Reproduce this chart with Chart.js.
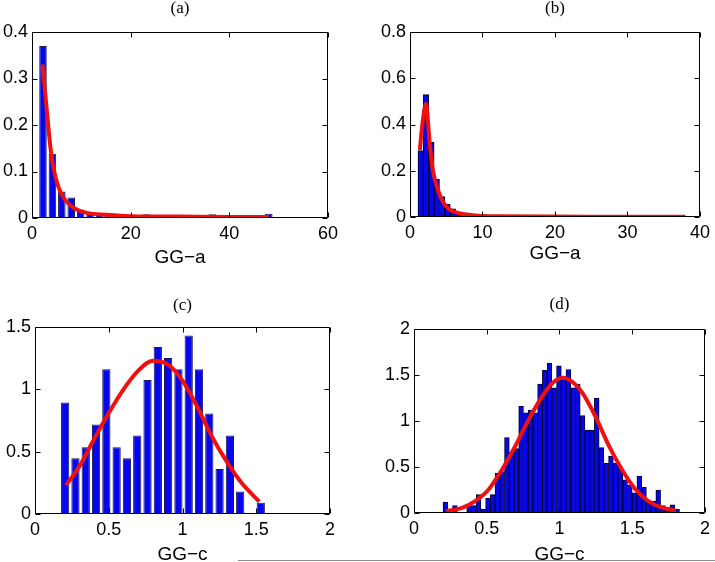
<!DOCTYPE html>
<html>
<head>
<meta charset="utf-8">
<title>GG histograms</title>
<script src="https://cdn.jsdelivr.net/npm/chart.js@4.4.1/dist/chart.umd.min.js"></script>
<style>
    html, body { margin: 0; padding: 0; background: #fff; }
    body { width: 715px; height: 562px; position: relative; overflow: hidden; }
    .panel { position: absolute; }
    .rule { position: absolute; left: 238px; top: 560px; width: 477px; height: 1px; background: #8a8a8a; }
</style>
</head>
<body>
<div class="panel" id="wrap-a"><canvas id="chart-a"></canvas></div>
<div class="panel" id="wrap-b"><canvas id="chart-b"></canvas></div>
<div class="panel" id="wrap-c"><canvas id="chart-c"></canvas></div>
<div class="panel" id="wrap-d"><canvas id="chart-d"></canvas></div>
<div class="rule"></div>
<script>
// (a) GG-a, 25 bins
var aFirstBin = 2.23, aBinWidth = 1.907;
var aHeights = [0.37, 0.138, 0.057, 0.044, 0.018, 0.012, 0.007, 0.005, 0.008, 0.004,
    0.003, 0.008, 0.003, 0.002, 0.002, 0.001, 0.001, 0.002, 0.008, 0.002,
    0.001, 0.001, 0.003, 0.003, 0.009];
var aCurveX = [2.1, 3.0, 3.65, 4.3, 5.35, 6.7, 8.4, 11.1, 15.2, 20, 30, 40, 48];
var aCurveY = [0.33, 0.232, 0.16, 0.11, 0.067, 0.039, 0.022, 0.011, 0.007, 0.004, 0.003, 0.002, 0.002];
var aXTicks = [0, 20, 40, 60];
var aYTicks = [0, 0.1, 0.2, 0.3, 0.4];

// (b) GG-a, 50 bins
var bFirstBin = 1.47, bBinWidth = 0.742;
var bHeights = [0.287, 0.529, 0.323, 0.164, 0.088, 0.055, 0.035, 0.02, 0.012, 0.008,
    0.005, 0.004, 0.003, 0.002, 0.002, 0.001, 0.001, 0.001, 0.001, 0,
    0.001, 0, 0.001, 0, 0, 0.001, 0, 0, 0, 0.001,
    0, 0, 0, 0, 0, 0, 0, 0, 0, 0,
    0, 0, 0, 0, 0, 0, 0, 0, 0, 0.002];
var bCurveX = [1.36, 1.72, 2.2, 2.72, 3.17, 3.85, 4.53, 5.44, 6.8, 8.6, 12, 20, 30, 38];
var bCurveY = [0.29, 0.405, 0.49, 0.32, 0.2, 0.117, 0.066, 0.033, 0.016, 0.008, 0.003, 0.002, 0.001, 0.001];
var bXTicks = [0, 10, 20, 30, 40];
var bYTicks = [0, 0.2, 0.4, 0.6, 0.8];

// (c) GG-c, 20 bins
var cFirstBin = 0.2045, cBinWidth = 0.0698;
var cHeights = [0.895, 0.448, 0.536, 0.717, 1.162, 0.536, 0.448, 0.629, 1.074, 1.34,
    1.252, 1.162, 1.431, 1.162, 0.807, 0.36, 0.629, 0.181, 0, 0.09];
var cCurveX = [0.21, 0.3, 0.4, 0.5, 0.6, 0.7, 0.8, 0.9, 1.0, 1.1, 1.2, 1.3, 1.4, 1.52];
var cCurveY = [0.23, 0.38, 0.6, 0.81, 1.0, 1.15, 1.23, 1.2, 1.07, 0.86, 0.62, 0.42, 0.25, 0.1];
var cXTicks = [0, 0.5, 1, 1.5, 2];
var cYTicks = [0, 0.5, 1, 1.5];

// (d) GG-c, 50 bins
var dFirstBin = 0.216, dBinWidth = 0.0325;
var dHeights = [0.12, 0, 0.08, 0, 0, 0.08, 0.08, 0.2, 0.04, 0.16,
    0.2, 0.43, 0.45, 0.82, 0.66, 0.7, 1.16, 1.09, 1.12, 1.09,
    1.4, 1.55, 1.63, 1.36, 1.6, 1.45, 1.56, 1.36, 1.4, 1.06,
    0.9, 0.9, 1.25, 0.71, 0.54, 0.62, 0.54, 0.5, 0.36, 0.3,
    0.22, 0.4, 0.28, 0.13, 0.13, 0.25, 0.08, 0.06, 0.09, 0.04];
var dCurveX = [0.22, 0.33, 0.42, 0.51, 0.6, 0.69, 0.78, 0.87, 0.95, 1.02, 1.1, 1.16, 1.25, 1.34, 1.43, 1.52, 1.61, 1.7, 1.8];
var dCurveY = [0.02, 0.055, 0.13, 0.25, 0.46, 0.71, 0.99, 1.24, 1.41, 1.47, 1.41, 1.3, 1.04, 0.73, 0.47, 0.26, 0.13, 0.06, 0.025];
var dXTicks = [0, 0.5, 1, 1.5, 2];
var dYTicks = [0, 0.5, 1, 1.5, 2];

(function () {
    'use strict';

    Chart.defaults.font.family = '"Liberation Sans", Arial, sans-serif';
    Chart.defaults.color = '#000';

    // MATLAB-like box with inward ticks on all four sides, plus the panel letter
    var matlabAxes = {
        id: 'matlabAxes',
        afterDraw: function (chart, args, opts) {
            var ctx = chart.ctx;
            var a = chart.chartArea;
            var xs = chart.scales.x;
            var ys = chart.scales.y;
            var len = 5;
            var l = Math.round(a.left) + 0.5, r = Math.round(a.right) - 0.5;
            var t = Math.round(a.top) + 0.5, b = Math.round(a.bottom) - 0.5;
            ctx.save();
            ctx.strokeStyle = '#000';
            ctx.lineWidth = 1;
            ctx.beginPath();
            ctx.rect(l, t, r - l, b - t);
            xs.ticks.forEach(function (tk) {
                var px = Math.round(xs.getPixelForValue(tk.value)) + 0.5;
                ctx.moveTo(px, b); ctx.lineTo(px, b - len);
                ctx.moveTo(px, t); ctx.lineTo(px, t + len);
            });
            ys.ticks.forEach(function (tk) {
                var py = Math.round(ys.getPixelForValue(tk.value)) + 0.5;
                ctx.moveTo(l, py); ctx.lineTo(l + len, py);
                ctx.moveTo(r, py); ctx.lineTo(r - len, py);
            });
            ctx.stroke();
            ctx.fillStyle = '#000';
            ctx.font = '17px "Liberation Serif", "Times New Roman", serif';
            ctx.textAlign = 'center';
            ctx.textBaseline = 'middle';
            ctx.fillText(opts.title, (a.left + a.right) / 2, a.top - opts.gap);
            ctx.restore();
        }
    };

    function toPoints(xs, ys) {
        var out = [];
        for (var i = 0; i < xs.length; i++) {
            out.push({ x: xs[i], y: ys[i] });
        }
        return out;
    }

    function binPoints(first, width, heights) {
        var out = [];
        for (var i = 0; i < heights.length; i++) {
            out.push({ x: first + width * i, y: heights[i] });
        }
        return out;
    }

    function buildPanel(p) {
        var wrap = document.getElementById(p.wrap);
        wrap.style.left = p.cont[0] + 'px';
        wrap.style.top = p.cont[1] + 'px';
        wrap.style.width = p.cont[2] + 'px';
        wrap.style.height = p.cont[3] + 'px';

        var yW = p.box.l - p.cont[0];
        var padTop = p.box.t - p.cont[1];
        var padRight = p.cont[0] + p.cont[2] - p.box.r;
        var xH = p.cont[1] + p.cont[3] - p.box.b;

        new Chart(document.getElementById(p.canvas), {
            type: 'bar',
            data: {
                datasets: [{
                    type: 'line',
                    data: toPoints(p.curveX, p.curveY),
                    borderColor: '#f01010',
                    borderWidth: 4,
                    pointRadius: 0,
                    cubicInterpolationMode: 'monotone',
                    order: 0
                }, {
                    type: 'bar',
                    data: binPoints(p.first, p.width, p.heights),
                    backgroundColor: '#0606ec',
                    borderColor: p.edge,
                    borderWidth: 1,
                    barPercentage: p.barPct,
                    categoryPercentage: 1,
                    order: 1
                }]
            },
            options: {
                responsive: true,
                maintainAspectRatio: false,
                animation: false,
                events: [],
                layout: { padding: { top: padTop, right: padRight, bottom: 0, left: 0 } },
                plugins: {
                    legend: { display: false },
                    tooltip: { enabled: false },
                    matlabAxes: { title: p.title, gap: p.titleGap }
                },
                scales: {
                    x: {
                        type: 'linear',
                        min: p.xTicks[0],
                        max: p.xTicks[p.xTicks.length - 1],
                        offset: false,
                        grid: { display: false, drawTicks: false },
                        border: { display: false },
                        afterBuildTicks: function (s) {
                            s.ticks = p.xTicks.map(function (v) { return { value: v }; });
                        },
                        afterFit: function (s) { s.height = xH; },
                        ticks: {
                            font: { size: 18 },
                            padding: 5,
                            maxRotation: 0,
                            autoSkip: false,
                            callback: function (v) { return String(v); }
                        },
                        title: {
                            display: true,
                            text: p.xLabel,
                            font: { size: 19 },
                            padding: { top: 0, bottom: p.labelPad }
                        }
                    },
                    y: {
                        type: 'linear',
                        min: p.yTicks[0],
                        max: p.yTicks[p.yTicks.length - 1],
                        grid: { display: false, drawTicks: false },
                        border: { display: false },
                        afterBuildTicks: function (s) {
                            s.ticks = p.yTicks.map(function (v) { return { value: v }; });
                        },
                        afterFit: function (s) { s.width = yW; },
                        ticks: {
                            font: { size: 18 },
                            padding: 4,
                            autoSkip: false,
                            callback: function (v) { return String(v); }
                        }
                    }
                }
            },
            plugins: [matlabAxes]
        });
    }

    buildPanel({
        wrap: 'wrap-a', canvas: 'chart-a', cont: [0, 0, 357, 281],
        box: { l: 32, t: 32, r: 328, b: 218 },
        first: aFirstBin, width: aBinWidth, heights: aHeights,
        curveX: aCurveX, curveY: aCurveY, xTicks: aXTicks, yTicks: aYTicks,
        xLabel: 'GG\u2212a', title: '(a)', titleGap: 23.5, labelPad: 12,
        barPct: 0.8, edge: '#1a1a5a'
    });
    buildPanel({
        wrap: 'wrap-b', canvas: 'chart-b', cont: [357, 0, 358, 281],
        box: { l: 410, t: 32, r: 704, b: 217 },
        first: bFirstBin, width: bBinWidth, heights: bHeights,
        curveX: bCurveX, curveY: bCurveY, xTicks: bXTicks, yTicks: bYTicks,
        xLabel: 'GG\u2212a', title: '(b)', titleGap: 23.7, labelPad: 15.6,
        barPct: 1, edge: '#000030'
    });
    buildPanel({
        wrap: 'wrap-c', canvas: 'chart-c', cont: [0, 281, 357, 300],
        box: { l: 35, t: 327, r: 330, b: 514 },
        first: cFirstBin, width: cBinWidth, heights: cHeights,
        curveX: cCurveX, curveY: cCurveY, xTicks: cXTicks, yTicks: cYTicks,
        xLabel: 'GG\u2212c', title: '(c)', titleGap: 21, labelPad: 15,
        barPct: 0.8, edge: '#1a1a5a'
    });
    buildPanel({
        wrap: 'wrap-d', canvas: 'chart-d', cont: [357, 281, 358, 300],
        box: { l: 414, t: 329, r: 707, b: 513 },
        first: dFirstBin, width: dBinWidth, heights: dHeights,
        curveX: dCurveX, curveY: dCurveY, xTicks: dXTicks, yTicks: dYTicks,
        xLabel: 'GG\u2212c', title: '(d)', titleGap: 24, labelPad: 15,
        barPct: 1, edge: '#000030'
    });
})();
</script>
</body>
</html>
